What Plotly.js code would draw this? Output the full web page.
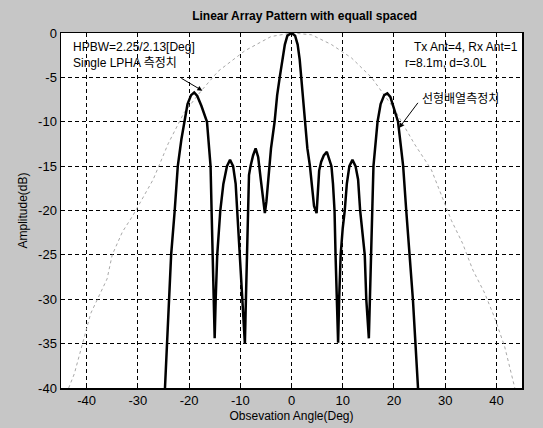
<!DOCTYPE html>
<html>
<head>
<meta charset="utf-8">
<script src="https://cdn.plot.ly/plotly-3.0.1.min.js"></script>
<style>html,body{margin:0;padding:0;background:#c6c6c6;}#chart{width:543px;height:428px;}</style>
</head>
<body>
<div id="chart"></div>
<script>
// Linear array measured pattern (black line)
var arrayAngle = [-24.7,-24.3,-24.0,-23.5,-22.8,-22.2,-21.5,-20.85,-20.3,-19.6,-19.0,-18.4,-17.6,-16.5,-15.8,-15.6,-15.4,-15.2,-15.0,
  -14.8,-14.5,-13.9,-13.3,-12.6,-12.0,-11.4,-10.9,-10.6,-10.1,-9.6,-9.1,
  -8.9,-8.7,-8.5,-8.3,-8.0,-7.5,-7.0,-6.5,-6.0,-5.5,-5.2,
  -4.9,-4.5,-4.0,-3.3,-2.8,-2.3,-1.8,-1.3,-0.8,0,0.7,1.2,1.6,1.9,2.6,3.1,3.6,4.1,4.4,4.9,
  5.1,5.4,5.8,6.3,6.9,7.4,7.8,8.1,8.4,8.6,8.8,9.1,
  9.3,9.6,10.0,10.4,10.8,11.3,11.9,12.5,13.0,13.4,14.3,14.6,15.1,
  15.3,15.5,15.7,16.0,16.8,17.4,18.1,18.7,19.3,20.0,20.8,21.4,21.8,22.4,23.05,23.7,24.2,24.7];
var arrayDb = [-40,-35,-30,-25,-20,-15,-12,-10,-8,-7,-6.7,-7.1,-8.2,-10,-15,-20,-25,-30,-34.4,
  -30,-25,-20,-17,-15,-14.3,-15,-17,-20,-25,-30,-35,
  -30,-25,-20,-16,-15,-13.8,-13.0,-14,-16.5,-19,-20.3,
  -19,-16,-13,-10,-7,-5,-3,-1.3,-0.3,0,-0.3,-1.3,-3,-5,-10,-13,-15,-18,-19.5,-20.3,
  -18,-15.5,-14.5,-13.8,-13.4,-14.2,-15,-17,-20,-25,-30,-34.9,
  -30,-25,-22,-20,-17,-15,-14.3,-15,-16.5,-20,-25,-30,-34.4,
  -30,-25,-20,-15,-10,-8,-7,-6.8,-7.2,-8.4,-10,-13,-15,-20,-25,-30,-35,-40];
// Single LPHA measured pattern (gray dotted)
var singleAngle = [-43.5,-42.4,-39.2,-36,-35,-33,-31,-27,-25.4,-24.1,-21,-17.6,-14.3,-9.1,-4,0,3.9,7.8,11.7,15.6,20,24,27.3,31.2,33.4,35.4,37.7,39.6,41.6,43.2,43.6];
var singleDb = [-40,-38.4,-31.6,-27.7,-25,-22.4,-20.6,-16.5,-14.3,-12.5,-9,-6.5,-4.3,-2,-0.4,0,-0.2,-1.3,-2.8,-5,-8.5,-12.5,-15.4,-21.1,-23.7,-26.7,-29.3,-32,-35.3,-39,-40];
var xTicks = [-40,-30,-20,-10,0,10,20,30,40];
var yTicks = [0,-5,-10,-15,-20,-25,-30,-35,-40];

var FONT = "Arial, 'Liberation Sans', 'Noto Sans CJK KR', sans-serif";
var data = [
  {x: singleAngle, y: singleDb, type: 'scatter', mode: 'lines',
   line: {color: '#a8a8a8', width: 1, dash: 'dot'}, hoverinfo: 'skip', showlegend: false},
  {x: arrayAngle, y: arrayDb, type: 'scatter', mode: 'lines',
   line: {color: '#000', width: 2.5}, showlegend: false}
];
var gridAxis = {showgrid: true, gridcolor: '#000', griddash: '4px,3px', gridwidth: 1,
  showline: true, linecolor: '#000', linewidth: 1.5, mirror: true, zeroline: false,
  ticks: 'inside', ticklen: 4, tickcolor: '#000',
  tickfont: {family: FONT, size: 13, color: '#000'}};
var layout = {
  width: 543, height: 428,
  margin: {l: 61, r: 21, t: 33, b: 40},
  paper_bgcolor: '#c6c6c6', plot_bgcolor: '#ffffff',
  title: {text: 'Linear Array Pattern with equall spaced', font: {family: FONT, size: 12, color: '#000', weight: 'bold'},
    x: 287/543, xanchor: 'center', y: 1 - 16/428, yanchor: 'middle', xref: 'paper', yref: 'container'},
  xaxis: Object.assign({}, gridAxis, {range: [-45, 45], tickvals: xTicks, ticktext: xTicks.map(String),
    title: {text: 'Obsevation Angle(Deg)', font: {family: FONT, size: 12, color: '#000'}, standoff: 4}}),
  yaxis: Object.assign({}, gridAxis, {range: [-40, 0], tickvals: yTicks, ticktext: yTicks.map(String),
    title: {text: 'Amplitude(dB)', font: {family: FONT, size: 12, color: '#000'}, standoff: 8}}),
  annotations: [
    {x: -43, y: -1.6, xref: 'x', yref: 'y', text: 'HPBW=2.25/2.13[Deg]', showarrow: false, xanchor: 'left', yanchor: 'middle',
     font: {family: FONT, size: 12, color: '#000'}},
    {x: -43, y: -3.4, xref: 'x', yref: 'y', text: 'Single LPHA 측정치', showarrow: false, xanchor: 'left', yanchor: 'middle',
     font: {family: FONT, size: 12, color: '#000'}},
    {x: -17.4, y: -6.5, xref: 'x', yref: 'y', ax: -21.8, ay: -5.0, axref: 'x', ayref: 'y', text: '',
     showarrow: true, arrowhead: 2, arrowsize: 1, arrowwidth: 1, arrowcolor: '#000'},
    {x: 44.6, y: -1.6, xref: 'x', yref: 'y', text: 'Tx Ant=4, Rx Ant=1', showarrow: false, xanchor: 'right', yanchor: 'middle',
     font: {family: FONT, size: 12, color: '#000'}},
    {x: 21.7, y: -3.4, xref: 'x', yref: 'y', text: 'r=8.1m, d=3.0L', showarrow: false, xanchor: 'left', yanchor: 'middle',
     font: {family: FONT, size: 12, color: '#000'}},
    {x: 25, y: -7.4, xref: 'x', yref: 'y', text: '선형배열측정치', showarrow: false, xanchor: 'left', yanchor: 'middle',
     font: {family: FONT, size: 12, color: '#000'}},
    {x: 21.0, y: -10.7, xref: 'x', yref: 'y', ax: 24.9, ay: -7.7, axref: 'x', ayref: 'y', text: '',
     showarrow: true, arrowhead: 2, arrowsize: 1, arrowwidth: 1, arrowcolor: '#000'}
  ]
};
Plotly.newPlot('chart', data, layout, {displayModeBar: false, staticPlot: true});
</script>
</body>
</html>
